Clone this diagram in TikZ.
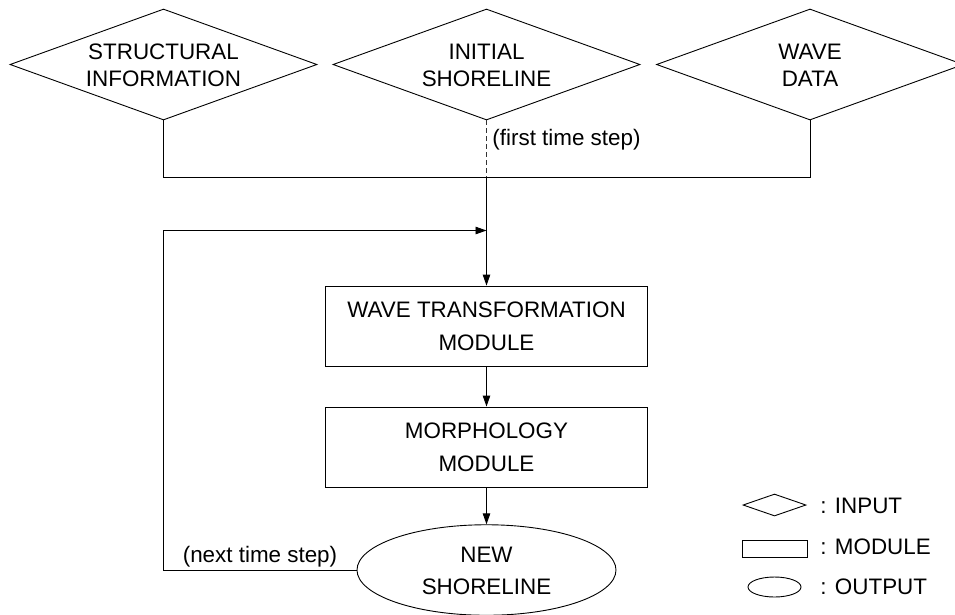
\documentclass[tikz,border=0pt]{standalone}
\usepackage{fontspec}
\setmainfont{Liberation Sans}
\usetikzlibrary{shapes.geometric,arrows.meta}
% two-line centred text, drawn slightly lower without changing its box
\newcommand\lowtext[2]{\raisebox{-#1}[\height][\depth]{\begin{tabular}{@{}c@{}}#2\end{tabular}}}
\begin{document}
\begin{tikzpicture}[x=1pt,y=-1pt,
  line width=0.9pt,
  >={Triangle[length=11pt,width=7.5pt]},
  inbox/.style={draw,diamond,inner sep=0pt,aspect=2.77,minimum width=307pt,minimum height=111pt,
    font=\fontsize{22.4}{26.5}\selectfont},
  modbox/.style={draw,rectangle,inner sep=0pt,minimum width=322pt,minimum height=80pt,
    align=center,font=\fontsize{22.4}{33}\selectfont},
  outbox/.style={draw,ellipse,inner sep=0pt,minimum width=259pt,minimum height=84pt,
    font=\fontsize{22.4}{32}\selectfont},
  lbl/.style={font=\fontsize{22.4}{26}\selectfont,inner sep=0pt}]
\useasboundingbox (0,0) rectangle (955,614);

% input diamonds
\node[inbox] (s) at (163.5,64.5) {\lowtext{3pt}{STRUCTURAL\\INFORMATION}};
\node[inbox] (i) at (486.5,64.5) {\lowtext{3pt}{INITIAL\\SHORELINE}};
\node[inbox] (w) at (810,64.5) {\lowtext{3pt}{WAVE\\DATA}};

% modules and output
\node[modbox] (m1) at (486.5,326) {WAVE TRANSFORMATION\\MODULE};
\node[modbox] (m2) at (486.5,447) {MORPHOLOGY\\MODULE};
\node[outbox] (e) at (486.5,570) {\lowtext{2pt}{NEW\\SHORELINE}};

% junction points
\coordinate (join) at (486.5,177);
\coordinate (fb) at (163.5,230.5);
\coordinate (merge) at (486.5,230.5);

% collecting line of the inputs
\draw (s.south) -- ++(0,57) -| (w.south);
\draw[black!80,line width=1pt,dash pattern=on 5pt off 3pt] (i.south) -- (join);
\draw[->] (join) -- (m1.north);
\draw[->] (m1.south) -- (m2.north);
\draw[->] (m2.south) -- (e.north);

% feedback loop
\draw[->] (e.west) -| (fb) -- (merge);

\node[lbl,anchor=west] (ft) at (492,140) {(first time step)};
\node[lbl] (nt) at (260,557) {(next time step)};

% legend
\node[draw,diamond,inner sep=0pt,aspect=2.9,minimum width=63pt,minimum height=22pt] (ld) at (774.5,505) {};
\node[draw,rectangle,inner sep=0pt,minimum width=65pt,minimum height=17pt] (lr) at (774.5,548.5) {};
\node[draw,ellipse,inner sep=0pt,minimum width=53pt,minimum height=20pt] (le) at (774.5,587) {};
\node[lbl,anchor=west] (tin) at (820,506) {: INPUT};
\node[lbl,anchor=west] (tmod) at (820,547) {: MODULE};
\node[lbl,anchor=west] (tout) at (820,587) {: OUTPUT};
\end{tikzpicture}
\end{document}
